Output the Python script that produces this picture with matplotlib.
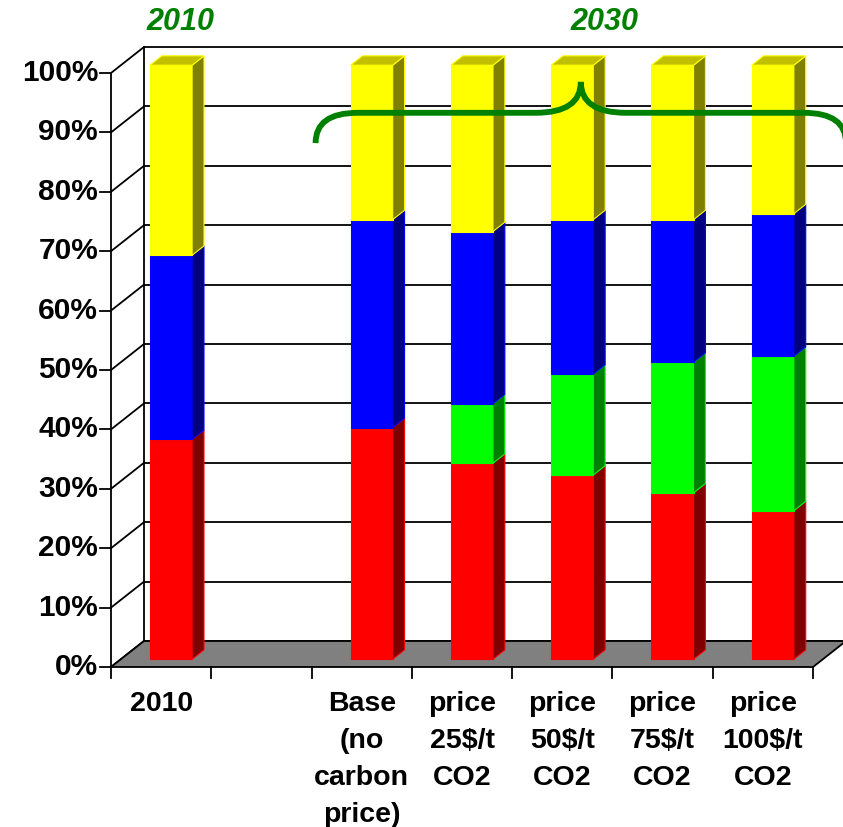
import numpy as np
import matplotlib.pyplot as plt
from matplotlib.patches import Polygon, PathPatch
from matplotlib.path import Path

# shares per scenario (percent), one list per fuel band, bottom to top
categories = ["2010", "", "Base\n(no\ncarbon\nprice)", "price\n25$/t\nCO2",
              "price\n50$/t\nCO2", "price\n75$/t\nCO2", "price\n100$/t\nCO2"]
red = [37, 0, 39, 33, 31, 28, 25]
green = [0, 0, 0, 10, 17, 22, 26]
blue = [31, 0, 35, 29, 26, 24, 24]
yellow = [32, 0, 26, 28, 26, 26, 25]
pct_ticks = list(range(0, 101, 10))

series = [red, green, blue, yellow]
face_cols = ["#ff0000", "#00ff00", "#0000ff", "#ffff00"]
side_cols = ["#800000", "#008000", "#000080", "#808000"]
top_cols = ["#c00000", "#00c000", "#0000c0", "#c0c000"]

# pixel scale of the front plane
PX = 100.29   # px per category
PY = 5.94     # px per percent
W, H = 843, 827
X0, Y0 = 111, 667   # front-left corner of the floor in px

DX = 33 / PX   # depth offset of the back wall
DY = 26 / PY

fig = plt.figure(figsize=(W / 100, H / 100), dpi=100)
ax = fig.add_axes([0, 0, 1, 1])
ax.set_xlim(-0.5 - X0 / PX, -0.5 + (W - X0) / PX)
ax.set_ylim(-(H - Y0) / PY, Y0 / PY)
ax.axis("off")

n = len(categories)
xl, xr = -0.5, n - 0.5
xr_edge = ax.get_xlim()[1] + 0.2
lw_grid = 1.3

# floor
ax.add_patch(Polygon([(xl, 0), (xr, 0), (xr + DX, DY), (xl + DX, DY)],
                     closed=True, fc="#808080", ec="black", lw=lw_grid, zorder=1))

# back wall and left wall grid
for v in pct_ticks:
    ax.plot([xl + DX, xr_edge], [v + DY, v + DY], color="black", lw=lw_grid, zorder=0.5)
    ax.plot([xl, xl + DX], [v, v + DY], color="black", lw=lw_grid, zorder=0.5)
    ax.plot([xl - 11 / PX, xl], [v, v], color="black", lw=lw_grid, zorder=0.5)
    ax.text(xl - 13 / PX, v, f"{v}%", ha="right", va="center", fontsize=21.5,
            fontweight="bold", family="Liberation Sans")
ax.plot([xl, xl], [0, 100], color="black", lw=lw_grid, zorder=0.5)
ax.plot([xl + DX, xl + DX], [DY, 100 + DY], color="black", lw=lw_grid, zorder=0.5)

# category ticks and labels under the floor
for k in range(n + 1):
    ax.plot([xl + k, xl + k], [0, -11 / PY], color="black", lw=lw_grid, zorder=1)
for i, lab in enumerate(categories):
    ax.text(i, -24 / PY, lab, ha="center", va="top", fontsize=20.5,
            fontweight="bold", family="Liberation Sans", linespacing=1.55)

# stacked 3D bars
bw = 0.42
d0, d1 = 0.30, 0.66
for i in range(n):
    base = 0.0
    segs = [(s[i], k) for k, s in enumerate(series) if s[i] > 0]
    for j, (val, k) in enumerate(segs):
        top = base + val
        fx0 = i - bw / 2 + d0 * DX
        fx1 = i + bw / 2 + d0 * DX
        fy0 = base + d0 * DY
        fy1 = top + d0 * DY
        ox = (d1 - d0) * DX
        oy = (d1 - d0) * DY
        z = 2 + i * 0.1 + j * 0.01
        ax.add_patch(Polygon([(fx0, fy0), (fx1, fy0), (fx1, fy1), (fx0, fy1)],
                             closed=True, fc=face_cols[k], ec=face_cols[k], lw=0.8, zorder=z))
        ax.add_patch(Polygon([(fx1, fy0), (fx1 + ox, fy0 + oy), (fx1 + ox, fy1 + oy), (fx1, fy1)],
                             closed=True, fc=side_cols[k], ec=face_cols[k], lw=0.8, zorder=z))
        if j == len(segs) - 1:
            ax.add_patch(Polygon([(fx0, fy1), (fx1, fy1), (fx1 + ox, fy1 + oy), (fx0 + ox, fy1 + oy)],
                                 closed=True, fc=top_cols[k], ec=face_cols[k], lw=0.8, zorder=z))
        base = top

# brace over the 2030 scenarios
L = 1.5 + 0.04
R = xr + DX
M = (L + R) / 2
y_h, y_end, y_pk = 93.3, 88.2, 98.5
r1, r2 = 0.42, 0.45
verts = [(L, y_end), (L, y_h), (L + r1, y_h), (M - r2, y_h), (M, y_h), (M, y_pk),
         (M, y_h), (M + r2, y_h), (R - r1, y_h), (R, y_h), (R, y_end)]
codes = [Path.MOVETO, Path.CURVE3, Path.CURVE3, Path.LINETO, Path.CURVE3, Path.CURVE3,
         Path.CURVE3, Path.CURVE3, Path.LINETO, Path.CURVE3, Path.CURVE3]
ax.add_patch(PathPatch(Path(verts, codes), fc="none", ec="#008000", lw=4.2,
                       capstyle="butt", zorder=10))

# period titles
title_kw = dict(ha="center", va="center", fontsize=22, fontweight="bold",
                fontstyle="italic", color="#008000", family="Liberation Sans")
ax.text(0.19, 108.6, "2010", **title_kw)
ax.text(4.42, 108.6, "2030", **title_kw)

fig.savefig("out.png", dpi=100)
